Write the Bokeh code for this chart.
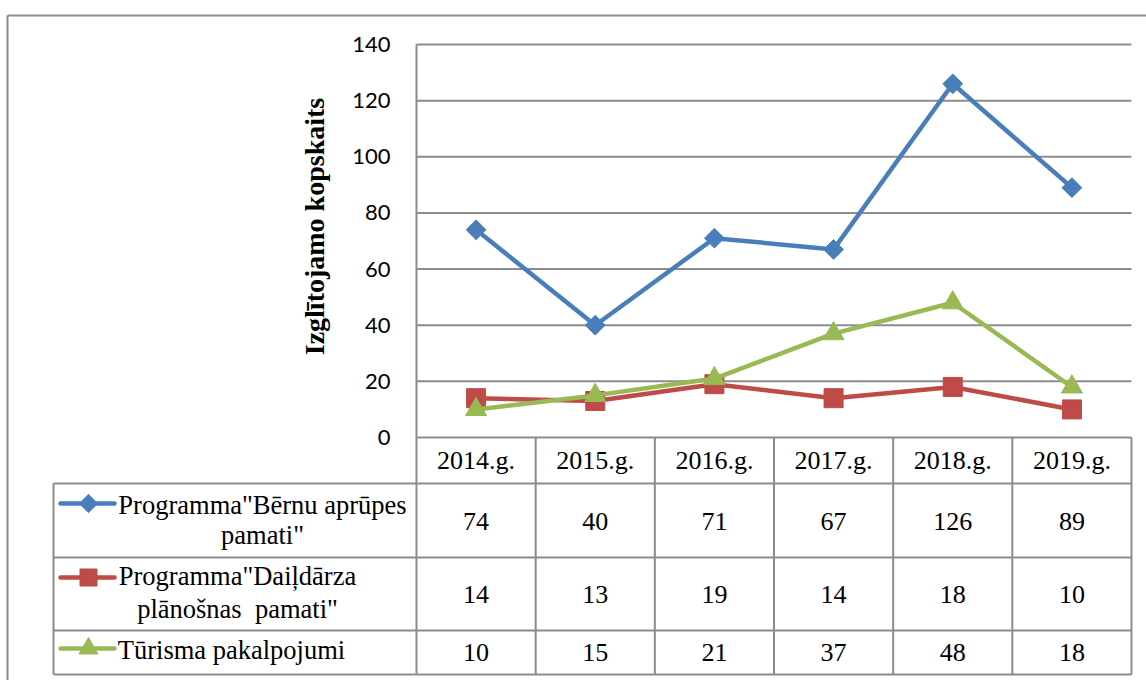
import numpy as np
from bokeh.plotting import figure
from bokeh.models import FixedTicker
from bokeh.core.properties import value
from bokeh.embed import file_html
from bokeh.resources import INLINE

# ---------------- data ----------------
years = ["2014.g.", "2015.g.", "2016.g.", "2017.g.", "2018.g.", "2019.g."]
series_names = ['Programma"Bērnu aprūpes pamati"',
                'Programma"Daiļdārza plānošnas  pamati"',
                'Tūrisma pakalpojumi']
legend_lines = [['Programma"Bērnu aprūpes', 'pamati"'],
                ['Programma"Daiļdārza', 'plānošnas\u00a0 pamati"'],
                ['Tūrisma pakalpojumi']]
bernu = [74, 40, 71, 67, 126, 89]
daildarza = [14, 13, 19, 14, 18, 10]
turisma = [10, 15, 21, 37, 48, 18]
y_ticks = [0, 20, 40, 60, 80, 100, 120, 140]
y_title = "Izglītojamo kopskaits"

series_values = [bernu, daildarza, turisma]
colors = ["#4A7EBB", "#BE4B48", "#98B954"]
markers = ["square", "square", "triangle"]
angles = [np.pi / 4, 0.0, 0.0]
sizes = [14, 19, 21]
leg_sizes = [13, 17, 19]

# ---------------- geometry (page pixels) ----------------
W, H = 1146, 680
OFF = 0
PX0, PX6 = 416, 1131
PY0, PY140 = 437, 44
cw = (PX6 - PX0) / 6.0
py = (PY0 - PY140) / 140.0


def dx(page_x):
    return (page_x - PX0) / cw


def dy(page_y):
    return (PY0 - page_y) / py


x_start, x_end = dx(OFF), dx(OFF + W)
y_end, y_start = dy(OFF), dy(OFF + H)

GRID = "#8C8C8C"
SERIF = value("Liberation Serif")

p = figure(width=W, height=H, x_range=(x_start, x_end), y_range=(y_start, y_end),
           output_backend="svg", toolbar_location=None, min_border=0)
p.outline_line_color = None
p.grid.visible = False
p.background_fill_color = "white"
p.border_fill_color = "white"

# ---- axes ----
xticks = [i + 0.5 for i in range(len(years))]
xa = p.xaxis[0]
xa.fixed_location = 0
xa.bounds = (0, len(years))
xa.ticker = FixedTicker(ticks=xticks)
xa.major_label_overrides = {t: lab for t, lab in zip(xticks, years)}
xa.major_tick_in = 0
xa.major_tick_out = 0
xa.minor_tick_line_color = None
xa.axis_line_color = GRID
xa.axis_line_width = 2
xa.major_label_text_font = "Liberation Serif"
xa.major_label_text_font_size = "26px"
xa.major_label_text_color = "black"
xa.major_label_standoff = 8

ya = p.yaxis[0]
ya.fixed_location = 0
ya.bounds = (0, 140)
ya.ticker = FixedTicker(ticks=y_ticks)
ya.major_tick_in = 0
ya.major_tick_out = 0
ya.minor_tick_line_color = None
ya.axis_line_color = GRID
ya.axis_line_width = 2
ya.major_label_text_font = "Lato"
ya.major_label_text_font_size = "22px"
ya.major_label_text_color = "black"
ya.major_label_standoff = 26

# ---- gridlines ----
gy = y_ticks[1:]
p.segment(x0=[0] * len(gy), x1=[len(years)] * len(gy), y0=gy, y1=gy,
          line_color=GRID, line_width=2)

# ---- outer chart border ----
p.segment(x0=[dx(7), dx(7)], x1=[x_end + 1, dx(7)], y0=[dy(15), dy(15)], y1=[dy(15), y_start - 1],
          line_color=GRID, line_width=2)

# ---- data table grid ----
row_edges = [483, 557, 630, 674]
hy = [dy(v) for v in row_edges]
p.segment(x0=[dx(53)] * len(hy), x1=[len(years)] * len(hy), y0=hy, y1=hy,
          line_color=GRID, line_width=2)
vx = list(range(len(years) + 1))
p.segment(x0=vx, x1=vx, y0=[0] * len(vx), y1=[dy(674)] * len(vx),
          line_color=GRID, line_width=2)
p.segment(x0=[dx(53)], x1=[dx(53)], y0=[dy(483)], y1=[dy(674)],
          line_color=GRID, line_width=2)

# ---- lines ----
for vals, col, mk, ang, sz in zip(series_values, colors, markers, angles, sizes):
    p.line(xticks, vals, line_color=col, line_width=4.5, line_join="round")
    p.scatter(xticks, vals, marker=mk, angle=ang, size=sz, fill_color=col,
              line_color=col, line_width=1)

# ---- table values ----
row_centers = [521, 594, 652]
for vals, rc in zip(series_values, row_centers):
    p.text(x=xticks, y=[dy(rc)] * len(vals), text=[str(v) for v in vals],
           text_font=SERIF, text_font_size=value("26px"), text_color="black",
           text_align="center", text_baseline="middle")

# ---- legend keys in table ----
key_y = [503, 577, 648]
for ky, col, mk, ang, sz in zip(key_y, colors, markers, angles, leg_sizes):
    p.segment(x0=[dx(60)], x1=[dx(114)], y0=[dy(ky)], y1=[dy(ky)],
              line_color=col, line_width=4.5, line_cap="round")
    p.scatter([dx(88)], [dy(ky)], marker=mk, angle=ang, size=sz,
              fill_color=col, line_color=col)

legend_centers = [262, 237, 231]
legend_mids = [[504, 534], [575, 608], [649]]
for lines, cx, mids in zip(legend_lines, legend_centers, legend_mids):
    p.text(x=[dx(cx)] * len(lines), y=[dy(m) for m in mids], text=lines,
           text_font=SERIF, text_font_size=value("26.5px"), text_color="black",
           text_align="center", text_baseline="middle")

# ---- y title ----
p.text(x=[dx(314)], y=[dy(226)], text=[y_title], angle=np.pi / 2,
       text_font=SERIF, text_font_size=value("28px"), text_font_style="bold",
       text_color="black", text_align="center", text_baseline="middle")

open("out.html", "w").write(file_html(p, INLINE))
